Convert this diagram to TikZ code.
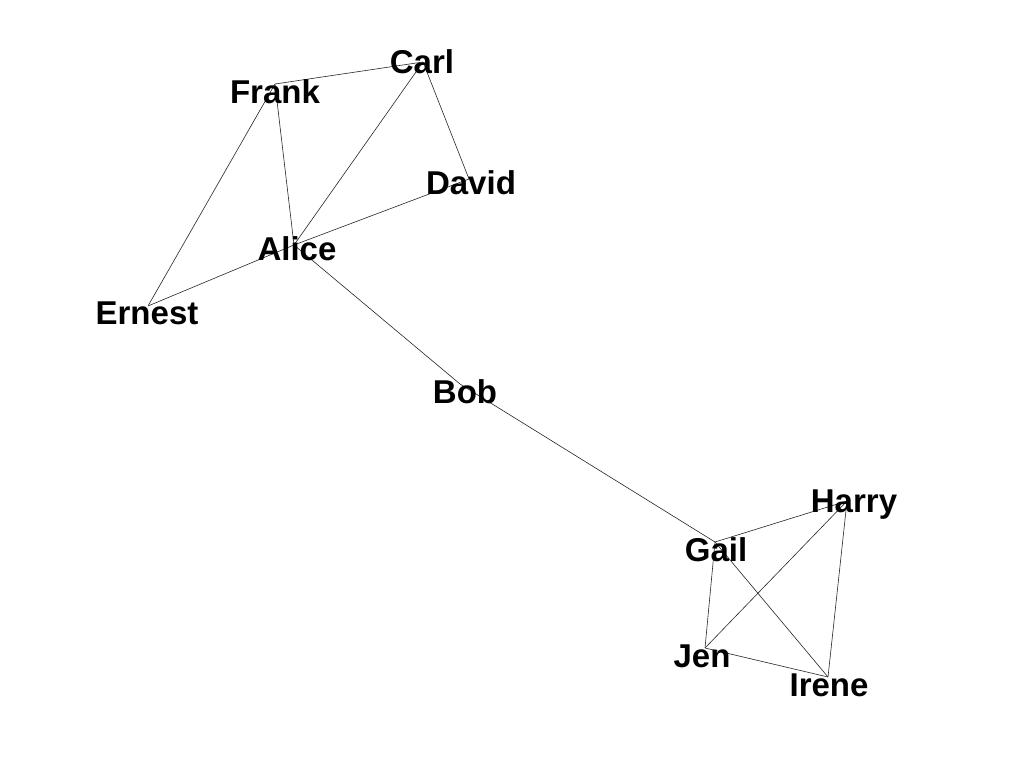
\documentclass[tikz,border=0pt]{standalone}
\usepackage{fontspec}
\setmainfont{Liberation Sans}
\usepackage{tikz}
\tikzset{pt/.style={inner sep=0pt,minimum size=0pt},
  lbl/.style={inner sep=0pt,anchor=base,font=\bfseries\fontsize{33}{33}\selectfont},
  link/.style={draw,black!85,line width=0.6pt}}

\begin{document}
\begin{tikzpicture}[x=1pt,y=-1pt]
        \useasboundingbox[fill=white] (0,0) rectangle (1024,768);
        \node[pt] (frank)at (275,84) {};
        \node[pt] (carl)at (423,62) {};
        \node[pt] (david)at (469,179) {};
        \node[pt] (alice)at (294,245) {};
        \node[pt] (ernest)at (148,306) {};
        \node[pt] (bob)at (460,384) {};
        \node[pt] (gail)at (715,542) {};
        \node[pt] (harry)at (847,501) {};
        \node[pt] (jen)at (705,648) {};
        \node[pt] (irene)at (828,677) {};

        \draw [link] (frank) to (carl);
        \draw [link] (frank) to (ernest);
        \draw [link] (frank) to (alice);
        \draw [link] (carl) to (alice);
        \draw [link] (carl) to (david);
        \draw [link] (david) to (alice);
        \draw [link] (alice) to (ernest);
        \draw [link] (alice) to (bob);
        \draw [link] (bob) to (gail);
        \draw [link] (gail) to (harry);
        \draw [link] (gail) to (jen);
        \draw [link] (gail) to (irene);
        \draw [link] (harry) to (jen);
        \draw [link] (harry) to (irene);
        \draw [link] (jen) to (irene);

        \node[lbl] (frankt)at (275,103) {Frank};
        \node[lbl] (carlt)at (422,74) {Carl};
        \node[lbl] (davidt)at (471,194) {David};
        \node[lbl] (alicet)at (297,260) {Alice};
        \node[lbl] (ernestt)at (147,324) {Ernest};
        \node[lbl] (bobt)at (465,403) {Bob};
        \node[lbl] (harryt)at (854,512) {Harry};
        \node[lbl] (gailt)at (716,561) {Gail};
        \node[lbl] (jent)at (702,667) {Jen};
        \node[lbl] (irenet)at (829,696) {Irene};
    \end{tikzpicture}
\end{document}
